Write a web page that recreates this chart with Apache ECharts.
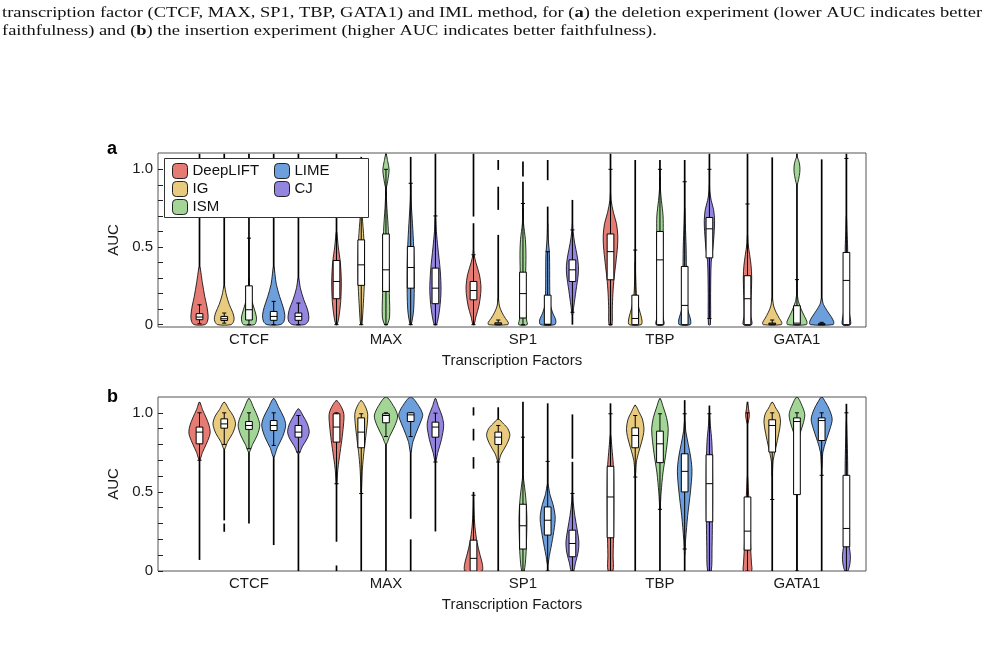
<!DOCTYPE html>
<html><head><meta charset="utf-8">
<script src="https://cdn.jsdelivr.net/npm/echarts@6/dist/echarts.min.js"></script>
<style>html,body{margin:0;padding:0;background:#fff}#c{width:986px;height:652px}</style>
</head><body><div id="c"></div>
<script>
const factors = ['CTCF', 'MAX', 'SP1', 'TBP', 'GATA1'];
const methods = ['DeepLIFT', 'IG', 'ISM', 'LIME', 'CJ'];
const methodColors = ['#e57b72', '#e8cb7e', '#a3d596', '#6e9fdd', '#9486de'];
const yLabelTicks = [0, 0.5, 1.0];
const yTickMarks = [0, 0.1, 0.2, 0.3, 0.4, 0.5, 0.6, 0.7, 0.8, 0.9, 1.0];

// box stats per factor, per method: [whiskerLow, q1, median, q3, whiskerHigh]
const delBox = [
 [[0.006,0.032,0.049,0.071,0.128],[0.01,0.027,0.038,0.053,0.075],[0,0.03,0.096,0.25,0.557],[0,0.028,0.053,0.085,0.15],[0,0.028,0.053,0.075,0.139]],
 [[0,0.167,0.278,0.413,0.8],[0,0.253,0.385,0.546,0.98],[0,0.214,0.353,0.584,1.0],[0,0.235,0.368,0.503,0.91],[0,0.135,0.235,0.364,0.7]],
 [[0,0.16,0.22,0.278,0.45],[0,0,0.005,0.012,0.03],[0,0.043,0.2,0.338,0.78],[0,0,0.003,0.19,0.47],[0.08,0.278,0.353,0.417,0.61]],
 [[0,0.289,0.47,0.584,1.0],[0,0,0.04,0.19,0.48],[0,0,0.417,0.6,1.0],[0,0,0.124,0.375,0.92],[0.04,0.43,0.617,0.69,1.0]],
 [[0,0,0.167,0.315,0.777],[0,0,0.005,0.01,0.03],[0,0,0.01,0.122,0.29],[0,0,0.003,0.006,0.015],[0,0,0.285,0.465,1.07]]
];
// data range segments (thin tails) per factor, per method
const delTails = [
 [[[0,1.1]],[[0,1.1]],[[0,1.1]],[[0,1.1]],[[0,1.1]]],
 [[[0,1.1]],[[0,1.08]],[[0,1.1]],[[0,1.08]],[[0,1.1]]],
 [[[0,0.653],[0.696,1.1]],[[0,0.578],[0.739,0.888],[0.996,1.06]],[[0,0.92],[0.953,1.05]],[[0,0.76],[0.93,1.06]],[[0,0.803]]],
 [[[0,1.1]],[[0,1.06]],[[0,1.06]],[[0,1.06]],[[0,1.1]]],
 [[[0,1.1]],[[0,1.077]],[[0,1.1]],[[0,1.064]],[[0,1.1]]]
];
// density profiles [AUC, relative density] per factor, per method (list of pieces)
const delShapes = [
 [
  [[[0,0.45],[0.02,0.66],[0.055,0.72],[0.12,0.61],[0.18,0.44],[0.27,0.24],[0.375,0]]],
  [[[0,0.55],[0.02,0.78],[0.045,0.82],[0.08,0.7],[0.13,0.42],[0.19,0.18],[0.25,0]]],
  [[[0,0.45],[0.02,0.6],[0.05,0.62],[0.1,0.45],[0.16,0.22],[0.22,0.05],[0.3,0]]],
  [[[0,0.55],[0.02,0.85],[0.06,0.93],[0.11,0.8],[0.18,0.5],[0.26,0.22],[0.375,0]]],
  [[[0,0.5],[0.02,0.8],[0.05,0.87],[0.1,0.75],[0.16,0.45],[0.23,0.18],[0.3,0]]]
 ],
 [
  [[[0,0.05],[0.05,0.2],[0.15,0.35],[0.28,0.4],[0.4,0.32],[0.5,0.15],[0.6,0]]],
  [[[0,0.05],[0.1,0.15],[0.25,0.25],[0.4,0.27],[0.55,0.22],[0.7,0.08],[0.8,0]]],
  [[[0,0.1],[0.05,0.3],[0.2,0.28],[0.35,0.22],[0.6,0.2],[0.75,0.08],[0.85,0]],[[0.88,0],[0.95,0.2],[1.0,0.26],[1.05,0.15],[1.1,0]]],
  [[[0,0.05],[0.1,0.25],[0.3,0.3],[0.5,0.25],[0.65,0.15],[0.8,0.03],[0.9,0]]],
  [[[0,0.1],[0.1,0.35],[0.22,0.47],[0.35,0.4],[0.5,0.2],[0.6,0.08],[0.7,0]]]
 ],
 [
  [[[0,0.05],[0.05,0.2],[0.12,0.45],[0.2,0.6],[0.25,0.62],[0.32,0.5],[0.4,0.2],[0.45,0.05],[0.48,0]]],
  [[[0,0.8],[0.015,0.83],[0.04,0.6],[0.08,0.3],[0.12,0.1],[0.17,0]]],
  [[[0,0.35],[0.03,0.3],[0.1,0.2],[0.3,0.22],[0.45,0.25],[0.55,0.2],[0.65,0.05],[0.75,0]]],
  [[[0,0.6],[0.03,0.67],[0.07,0.45],[0.13,0.22],[0.25,0.17],[0.45,0.15],[0.55,0.05],[0.65,0]]],
  [[[0.06,0],[0.12,0.12],[0.22,0.3],[0.32,0.48],[0.38,0.5],[0.45,0.38],[0.52,0.2],[0.6,0.05],[0.65,0]]]
 ],
 [
  [[[0,0.12],[0.1,0.15],[0.2,0.2],[0.3,0.3],[0.4,0.45],[0.5,0.58],[0.57,0.61],[0.65,0.5],[0.72,0.25],[0.8,0.05],[0.85,0]]],
  [[[0,0.5],[0.03,0.56],[0.08,0.4],[0.14,0.2],[0.2,0.1],[0.3,0.04],[0.4,0]]],
  [[[0,0.33],[0.05,0.25],[0.2,0.2],[0.45,0.22],[0.6,0.27],[0.7,0.26],[0.8,0.12],[0.88,0.03],[0.95,0]]],
  [[[0,0.45],[0.03,0.5],[0.07,0.35],[0.12,0.2],[0.3,0.15],[0.5,0.12],[0.65,0.05],[0.75,0]]],
  [[[0,0.08],[0.2,0.1],[0.4,0.15],[0.5,0.3],[0.6,0.4],[0.67,0.43],[0.74,0.35],[0.8,0.15],[0.86,0.03],[0.9,0]]]
 ],
 [
  [[[0,0.35],[0.05,0.3],[0.15,0.3],[0.3,0.35],[0.38,0.3],[0.45,0.18],[0.52,0.05],[0.58,0]]],
  [[[0,0.75],[0.015,0.79],[0.04,0.6],[0.08,0.32],[0.12,0.12],[0.17,0]]],
  [[[0,0.78],[0.02,0.83],[0.05,0.65],[0.1,0.35],[0.15,0.12],[0.2,0]],[[0.9,0],[0.96,0.2],[1.0,0.25],[1.04,0.2],[1.08,0]]],
  [[[0,0.95],[0.02,1.0],[0.05,0.8],[0.09,0.45],[0.13,0.15],[0.17,0]]],
  [[[0,0.33],[0.05,0.3],[0.1,0.2],[0.3,0.12],[0.5,0.1],[0.6,0.05],[0.7,0]]]
 ]
];

const insBox = [
 [[0.7,0.804,0.878,0.91,1.0],[0.8,0.903,0.93,0.962,1.0],[0.773,0.895,0.92,0.945,1.0],[0.794,0.888,0.92,0.951,1.0],[0.752,0.846,0.878,0.92,0.983]],
 [[0.552,0.815,0.91,0.994,1.0],[0.49,0.779,0.878,0.968,0.994],[0.85,0.937,0.983,0.994,1.0],[0.85,0.945,0.987,1.0,1.0],[0.689,0.846,0.91,0.941,0.998]],
 [[0,0,0.08,0.195,0.479],[0.689,0.8,0.846,0.878,0.92],[0,0.139,0.286,0.422,0.846],[0,0.227,0.321,0.405,0.693],[0,0.09,0.174,0.258,0.49]],
 [[0,0.21,0.468,0.662,0.994],[0.594,0.779,0.857,0.905,0.983],[0.39,0.685,0.804,0.884,0.994],[0.139,0.5,0.63,0.741,0.994],[0,0.311,0.552,0.735,0.994]],
 [[0,0.132,0.252,0.468,1.0],[0.452,0.752,0.92,0.956,1.0],[0,0.483,0.945,0.968,1.0],[0.605,0.825,0.951,0.968,1.0],[0,0.153,0.269,0.605,1.0]]
];
const insTails = [
 [[[0.07,1.067]],[[0.248,0.3],[0.32,1.067]],[[0.3,1.09]],[[0.164,1.09]],[[0,1.025]]],
 [[[0,0.035],[0.185,1.077]],[[0,1.077]],[[0,1.1]],[[0,0.2],[0.33,1.1]],[[0.25,1.09]]],
 [[[0,0.5],[0.647,0.72],[0.825,0.899],[0.983,1.035]],[[0,1.035]],[[0,1.07]],[[0,1.06]],[[0,0.69],[0.71,0.99]]],
 [[[0,1.06]],[[0,1.05]],[[0,1.09]],[[0,1.08]],[[0,1.046]]],
 [[[0,1.07]],[[0,1.067]],[[0,1.1]],[[0,1.1]],[[0,1.057]]]
];
const insShapes = [
 [
  [[[0.7,0],[0.75,0.25],[0.8,0.55],[0.85,0.82],[0.88,0.89],[0.92,0.8],[0.97,0.55],[1.02,0.25],[1.067,0]]],
  [[[0.77,0],[0.82,0.3],[0.87,0.7],[0.93,0.94],[0.98,0.75],[1.02,0.4],[1.067,0]]],
  [[[0.75,0],[0.8,0.3],[0.86,0.7],[0.92,0.9],[0.97,0.75],[1.03,0.4],[1.09,0]]],
  [[[0.72,0],[0.78,0.3],[0.85,0.75],[0.92,1.0],[0.97,0.85],[1.03,0.45],[1.09,0]]],
  [[[0.74,0],[0.79,0.35],[0.84,0.75],[0.88,0.9],[0.93,0.75],[0.98,0.4],[1.025,0]]]
 ],
 [
  [[[0.54,0],[0.65,0.12],[0.75,0.3],[0.85,0.48],[0.94,0.6],[0.99,0.62],[1.03,0.45],[1.077,0]]],
  [[[0.5,0],[0.65,0.1],[0.75,0.22],[0.85,0.38],[0.93,0.5],[0.99,0.54],[1.03,0.4],[1.077,0]]],
  [[[0.8,0],[0.85,0.3],[0.92,0.75],[0.98,0.97],[1.04,0.65],[1.1,0]]],
  [[[0.75,0],[0.82,0.2],[0.9,0.6],[0.96,0.92],[0.99,1.0],[1.04,0.7],[1.1,0]]],
  [[[0.69,0],[0.75,0.2],[0.83,0.5],[0.92,0.69],[0.98,0.55],[1.04,0.25],[1.09,0]]]
 ],
 [
  [[[0,0.7],[0.04,0.75],[0.1,0.55],[0.18,0.3],[0.28,0.12],[0.38,0.04],[0.48,0]]],
  [[[0.69,0],[0.74,0.25],[0.8,0.7],[0.857,0.97],[0.9,0.8],[0.93,0.45],[0.96,0]]],
  [[[0,0.1],[0.1,0.25],[0.2,0.3],[0.33,0.33],[0.45,0.25],[0.55,0.1],[0.6,0]]],
  [[[0.04,0],[0.1,0.15],[0.2,0.4],[0.3,0.6],[0.35,0.62],[0.42,0.45],[0.48,0.2],[0.55,0]]],
  [[[0,0.1],[0.05,0.25],[0.12,0.48],[0.185,0.54],[0.26,0.4],[0.35,0.2],[0.43,0.07],[0.5,0]]]
 ],
 [
  [[[0,0.2],[0.1,0.22],[0.25,0.26],[0.45,0.28],[0.65,0.25],[0.75,0.15],[0.86,0]]],
  [[[0.6,0],[0.7,0.12],[0.78,0.4],[0.85,0.65],[0.9,0.73],[0.96,0.6],[1.0,0.35],[1.046,0]]],
  [[[0.39,0],[0.5,0.1],[0.62,0.25],[0.72,0.45],[0.82,0.62],[0.9,0.69],[0.97,0.55],[1.03,0.3],[1.09,0]]],
  [[[0.1,0],[0.2,0.08],[0.35,0.25],[0.5,0.48],[0.63,0.61],[0.72,0.5],[0.8,0.3],[0.88,0.1],[0.95,0]]],
  [[[0,0.15],[0.15,0.22],[0.3,0.25],[0.5,0.27],[0.7,0.25],[0.82,0.2],[0.92,0.08],[1.0,0]]]
 ],
 [
  [[[0,0.33],[0.05,0.33],[0.12,0.28],[0.25,0.22],[0.4,0.15],[0.5,0.08],[0.6,0]],[[0.93,0],[0.98,0.15],[1.02,0.1],[1.06,0]]],
  [[[0.6,0],[0.7,0.08],[0.78,0.3],[0.87,0.55],[0.94,0.69],[0.99,0.6],[1.03,0.3],[1.067,0]]],
  [[[0.8,0],[0.88,0.3],[0.94,0.55],[0.99,0.65],[1.04,0.45],[1.1,0]]],
  [[[0.65,0],[0.75,0.1],[0.82,0.35],[0.9,0.7],[0.96,0.875],[1.02,0.65],[1.07,0.3],[1.1,0]]],
  [[[0,0.12],[0.05,0.3],[0.1,0.33],[0.15,0.25],[0.3,0.15],[0.5,0.12],[0.7,0.1],[0.85,0.05],[0.95,0]]]
 ]
];

// ---------- rendering ----------
const FONT = '"Liberation Sans", Arial, Helvetica, sans-serif';
const methodOffsets = [-0.361, -0.1805, 0, 0.1805, 0.361];
const VIOLIN_UNIT = 0.0876;   // x-units for relative density 1
const BOX_HALF = 0.0245;
const CAP_HALF = 0.015;

function makeSeries(panelIdx, mi, box, tails, shapes) {
  const color = methodColors[mi];
  return {
    type: 'custom',
    name: methods[mi],
    xAxisIndex: panelIdx,
    yAxisIndex: panelIdx,
    itemStyle: { color: color },
    clip: true,
    data: factors.map((f, fi) => [fi + 1 + methodOffsets[mi], box[fi][mi][2]]),
    encode: { x: 0, y: 1 },
    renderItem: function (params, api) {
      const fi = params.dataIndex;
      const xc = api.value(0);
      const wUnit = api.size([VIOLIN_UNIT, 0])[0];
      const bHalf = api.size([BOX_HALF, 0])[0];
      const cHalf = api.size([CAP_HALF, 0])[0];
      const children = [];
      tails[fi][mi].forEach(seg => {
        const a = api.coord([xc, seg[0]]), b = api.coord([xc, seg[1]]);
        children.push({ type: 'line', shape: { x1: a[0], y1: a[1], x2: b[0], y2: b[1] },
          style: { stroke: '#000', lineWidth: 1.7 } });
      });
      shapes[fi][mi].forEach(piece => {
        const poly = [];
        const n = piece.length;
        for (let k = 0; k < n; k++) {
          const c = api.coord([xc, piece[k][0]]);
          poly.push([c[0] + piece[k][1] * wUnit, c[1]]);
        }
        for (let k = n - 1; k >= 0; k--) {
          if (piece[k][1] === 0) continue;
          const c = api.coord([xc, piece[k][0]]);
          poly.push([c[0] - piece[k][1] * wUnit, c[1]]);
        }
        const clean = poly.filter((p, i) => i === 0 || Math.abs(p[0] - poly[i - 1][0]) > 0.01 || Math.abs(p[1] - poly[i - 1][1]) > 0.01);
        children.push({ type: 'polygon', shape: { points: clean, smooth: 0.3 },
          style: { fill: color, stroke: '#000', lineWidth: 0.8 } });
      });
      const s = box[fi][mi];
      const lo = api.coord([xc, s[0]]), q1 = api.coord([xc, s[1]]), md = api.coord([xc, s[2]]),
            q3 = api.coord([xc, s[3]]), hi = api.coord([xc, s[4]]);
      children.push({ type: 'line', shape: { x1: lo[0], y1: lo[1], x2: hi[0], y2: hi[1] }, style: { stroke: '#000', lineWidth: 1 } });
      children.push({ type: 'line', shape: { x1: lo[0] - cHalf, y1: lo[1], x2: lo[0] + cHalf, y2: lo[1] }, style: { stroke: '#000', lineWidth: 1 } });
      children.push({ type: 'line', shape: { x1: hi[0] - cHalf, y1: hi[1], x2: hi[0] + cHalf, y2: hi[1] }, style: { stroke: '#000', lineWidth: 1 } });
      children.push({ type: 'rect', shape: { x: q3[0] - bHalf, y: q3[1], width: 2 * bHalf, height: Math.max(q1[1] - q3[1], 1) },
        style: { fill: '#fff', stroke: '#000', lineWidth: 1 } });
      children.push({ type: 'line', shape: { x1: md[0] - bHalf, y1: md[1], x2: md[0] + bHalf, y2: md[1] }, style: { stroke: '#000', lineWidth: 1 } });
      return { type: 'group', children: children };
    }
  };
}

function xAxisFor(gi) {
  return {
    type: 'value', gridIndex: gi, min: 0.336, max: 5.504,
    axisLine: { show: false }, axisTick: { show: false }, splitLine: { show: false },
    axisLabel: { customValues: [1, 2, 3, 4, 5], formatter: v => factors[Math.round(v) - 1],
      fontSize: 15, color: '#1a1a1a', fontFamily: FONT, margin: 5 },
    name: 'Transcription Factors', nameLocation: 'middle', nameGap: 26,
    nameTextStyle: { fontSize: 15, color: '#1a1a1a', fontFamily: FONT }
  };
}
function yAxisFor(gi, mn, mx) {
  return {
    type: 'value', gridIndex: gi, min: mn, max: mx,
    axisLine: { show: false }, splitLine: { show: false },
    axisTick: { show: true, inside: true, length: 5, customValues: yTickMarks, lineStyle: { color: '#222', width: 1 } },
    axisLabel: { customValues: yLabelTicks, formatter: v => (v === 0 ? '0' : v.toFixed(1)),
      fontSize: 15, color: '#1a1a1a', fontFamily: FONT, margin: 5 },
    name: 'AUC', nameLocation: 'middle', nameGap: 28, nameRotate: 90,
    nameTextStyle: { fontSize: 15, color: '#1a1a1a', fontFamily: FONT }
  };
}

const series = [];
methods.forEach((m, mi) => series.push(makeSeries(0, mi, delBox, delTails, delShapes)));
methods.forEach((m, mi) => series.push(makeSeries(1, mi, insBox, insTails, insShapes)));

function legendCol(names, left) {
  return {
    left: left, top: 163, orient: 'vertical', padding: 0,
    itemWidth: 15, itemHeight: 15, itemGap: 2,
    icon: 'roundRect', z: 6,
    itemStyle: { borderColor: '#222', borderWidth: 1 },
    textStyle: { fontSize: 15, color: '#111', fontFamily: FONT },
    data: names
  };
}

const chart = echarts.init(document.getElementById('c'), null, { renderer: 'canvas' });
chart.setOption({
  animation: false,
  backgroundColor: '#fff',
  grid: [
    { left: 158, top: 153, width: 708, height: 174, show: true, borderColor: '#555', borderWidth: 1, backgroundColor: 'transparent' },
    { left: 158, top: 397, width: 708, height: 174, show: true, borderColor: '#555', borderWidth: 1, backgroundColor: 'transparent' }
  ],
  xAxis: [xAxisFor(0), xAxisFor(1)],
  yAxis: [yAxisFor(0, -0.015, 1.105), yAxisFor(1, 0, 1.1)],
  legend: [legendCol(methods.slice(0, 3), 172), legendCol(methods.slice(3), 274)],
  graphic: [
    { type: 'rect', z: 5, shape: { x: 164.5, y: 158.5, width: 204, height: 59 },
      style: { fill: '#fff', stroke: '#333', lineWidth: 1 } },
    { type: 'text', x: 2, y: 4, scaleX: 1.231, style: {
      text: 'transcription factor (CTCF, MAX, SP1, TBP, GATA1) and IML method, for ({b|a}) the deletion experiment (lower AUC indicates better\nfaithfulness) and ({b|b}) the insertion experiment (higher AUC indicates better faithfulness).',
      font: '15px "Liberation Serif", "Times New Roman", serif', fill: '#111', lineHeight: 18,
      rich: { b: { fontWeight: 'bold', fontFamily: '"Liberation Serif", serif', fontSize: 15, fill: '#111' } } } },
    { type: 'text', left: 107, top: 140, style: { text: 'a', font: 'bold 18px ' + FONT, fill: '#000' } },
    { type: 'text', left: 107, top: 388, style: { text: 'b', font: 'bold 18px ' + FONT, fill: '#000' } }
  ],
  series: series
});
</script></body></html>
